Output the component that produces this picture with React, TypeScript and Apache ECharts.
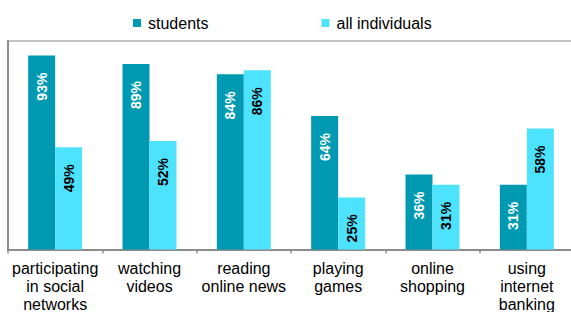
import React, { useEffect, useRef } from "react";
import * as echarts from "echarts";

const categories = [
  "participating\nin social\nnetworks",
  "watching\nvideos",
  "reading\nonline news",
  "playing\ngames",
  "online\nshopping",
  "using\ninternet\nbanking",
];
const students = [93, 89, 84, 64, 36, 31];
const allIndividuals = [49, 52, 86, 25, 31, 58];

const FONT = "'Liberation Sans', Arial, sans-serif";

export default function App() {
  const ref = useRef<HTMLDivElement>(null);
  useEffect(() => {
    if (!ref.current) return;
    const chart = echarts.init(ref.current, undefined, { renderer: "svg" });
    const label = (color: string) => ({
      show: true,
      position: "insideTop" as const,
      distance: 17,
      rotate: 90,
      align: "right" as const,
      verticalAlign: "middle" as const,
      color,
      fontSize: 14,
      fontWeight: "bold" as const,
      fontFamily: FONT,
      formatter: "{c}%",
    });
    chart.setOption({
      animation: false,
      textStyle: { fontFamily: FONT },
      legend: {
        top: 10,
        left: 128,
        icon: "rect",
        itemWidth: 8,
        itemHeight: 8,
        itemGap: 113,
        textStyle: { fontSize: 16, color: "#000", fontFamily: FONT, padding: [0, 0, 0, 2] },
        data: ["students", "all individuals"],
      },
      grid: {
        left: 8,
        right: -3,
        top: 41,
        bottom: 62.5,
        containLabel: false,
        outerBoundsMode: "none",
      },
      xAxis: {
        type: "category",
        data: categories,
        axisLine: { lineStyle: { color: "#8c8c8c", width: 2 } },
        axisTick: { show: true, length: 4, lineStyle: { color: "#8c8c8c", width: 1.5 } },
        axisLabel: {
          interval: 0,
          margin: 10,
          fontSize: 16,
          lineHeight: 18,
          color: "#000",
          fontFamily: FONT,
          align: "center",
        },
      },
      yAxis: {
        type: "value",
        min: 0,
        max: 100,
        interval: 100,
        axisLine: { show: true, lineStyle: { color: "#8c8c8c", width: 2 } },
        axisTick: { show: false },
        axisLabel: { show: false },
        splitLine: { show: true, lineStyle: { color: "#c4c4c4", width: 2 } },
      },
      series: [
        {
          name: "students",
          type: "bar",
          data: students,
          barWidth: 27,
          barGap: "0%",
          itemStyle: { color: "#0099b2" },
          label: label("#ffffff"),
        },
        {
          name: "all individuals",
          type: "bar",
          data: allIndividuals,
          barWidth: 27,
          barGap: "0%",
          itemStyle: { color: "#4de3ff" },
          label: label("#000000"),
        },
      ],
    });
    return () => chart.dispose();
  }, []);
  return <div ref={ref} style={{ width: 571, height: 312, position: "absolute", left: 0, top: 0 }} />;
}
